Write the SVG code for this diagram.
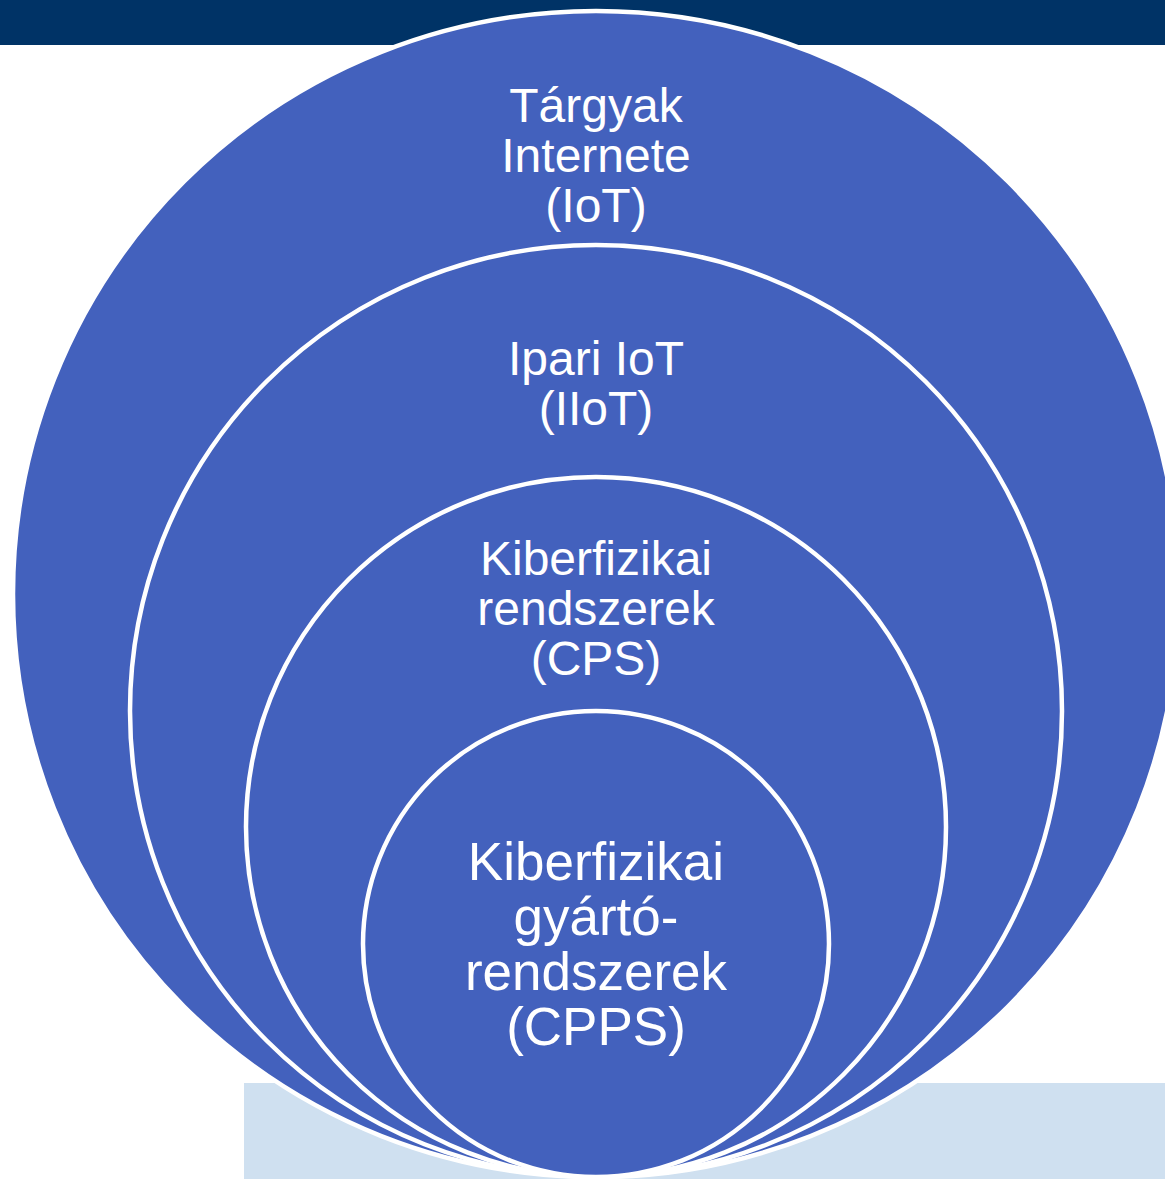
<svg xmlns="http://www.w3.org/2000/svg" width="1165" height="1179" viewBox="0 0 1165 1179">
<style>
.c{fill:#4361BD;stroke:#FFFFFF;stroke-width:4.5}
.t{fill:#FFFFFF;font-family:"Liberation Sans",Arial,sans-serif;font-size:48px;text-anchor:middle}
.t2{font-size:53px}
</style>
<rect x="0" y="0" width="1165" height="1179" fill="#FFFFFF"/>
<rect id="header" x="0" y="0" width="1165" height="45" fill="#003366"/>
<rect id="footer-box" x="244" y="1083" width="921" height="96" fill="#CFE0F0"/>
<g id="connectors"></g>
<g id="iot">
<circle class="c" cx="596" cy="594" r="583"/>
<text class="t" x="596" y="122">Tárgyak</text>
<text class="t" x="596" y="172">Internete</text>
<text class="t" x="596" y="222">(IoT)</text>
</g>
<g id="iiot">
<circle class="c" cx="596" cy="711" r="466"/>
<text class="t" x="596" y="375">Ipari IoT</text>
<text class="t" x="596" y="425">(IIoT)</text>
</g>
<g id="cps">
<circle class="c" cx="596" cy="827" r="350"/>
<text class="t" x="596" y="575">Kiberfizikai</text>
<text class="t" x="596" y="625">rendszerek</text>
<text class="t" x="596" y="675">(CPS)</text>
</g>
<g id="cpps">
<circle class="c" cx="596" cy="944" r="233"/>
<text class="t t2" x="596" y="880">Kiberfizikai</text>
<text class="t t2" x="596" y="935">gyártó-</text>
<text class="t t2" x="596" y="990">rendszerek</text>
<text class="t t2" x="596" y="1045">(CPPS)</text>
</g>
</svg>
